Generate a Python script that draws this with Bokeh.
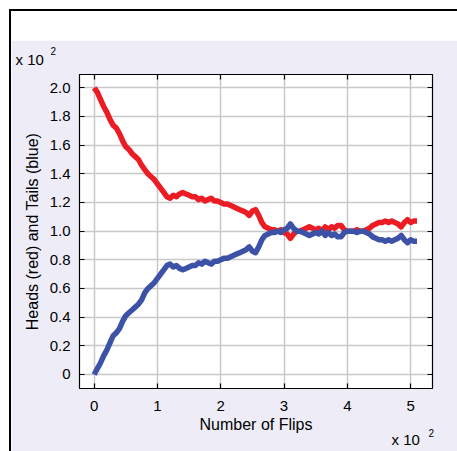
from bokeh.plotting import figure
from bokeh.models import FixedTicker, LinearAxis, Label, Range1d, ColumnDataSource
from bokeh.layouts import column
from bokeh.embed import file_html
from bokeh.resources import INLINE

flips = [0, 5, 10, 15, 20, 25, 30, 35, 40, 45, 50, 55, 60, 65, 70, 75, 80, 85, 90, 95,
         100, 105, 110, 115, 120, 125, 130, 135, 140, 145, 150, 155, 160, 165, 170, 175,
         180, 185, 190, 195, 200, 205, 210, 215, 220, 225, 230, 235, 240, 245, 250, 255,
         260, 265, 270, 275, 280, 285, 290, 295, 300, 305, 310, 315, 320, 325, 330, 335,
         340, 345, 350, 355, 360, 365, 370, 375, 380, 385, 390, 395, 400, 405, 410, 415,
         420, 425, 430, 435, 440, 445, 450, 455, 460, 465, 470, 475, 480, 485, 490, 495,
         500, 505, 510]

heads = [200, 197, 192, 187, 183, 178, 174, 172, 168, 163, 159, 157, 154, 152, 150, 146,
         143, 140, 138, 136, 133, 130, 127, 124, 123, 125, 124, 126, 127, 126, 125, 124,
         124, 122, 123, 121, 122, 123, 121, 121, 120, 119, 119, 118, 117, 116, 115, 114,
         113, 111, 114, 115, 111, 106, 103, 102, 101, 101, 100, 101, 99, 98, 95, 98,
         100, 100, 101, 102, 103, 102, 101, 102, 100, 103, 101, 103, 102, 104, 104, 101,
         100, 100, 100, 101, 100, 100, 101, 102, 104, 105, 106, 106, 107, 106, 107, 106,
         105, 103, 106, 108, 106, 107, 107]

tails = [0, 4, 8, 13, 17, 22, 27, 29, 32, 37, 41, 43, 45, 47, 49, 52, 57, 60, 62, 64,
         67, 70, 73, 76, 77, 75, 76, 74, 73, 74, 75, 76, 76, 78, 77, 79, 78, 77, 79, 79,
         80, 81, 81, 82, 83, 84, 85, 86, 87, 89, 86, 85, 89, 94, 97, 98, 99, 99, 100, 99,
         101, 102, 105, 102, 100, 100, 99, 98, 97, 98, 99, 98, 100, 97, 99, 97, 98, 96,
         96, 99, 100, 100, 100, 99, 100, 100, 99, 98, 96, 95, 94, 94, 93, 94, 93, 94,
         95, 97, 94, 92, 94, 93, 93]

x_ticks = [0, 100, 200, 300, 400, 500]
x_tick_labels = ["0", "1", "2", "3", "4", "5"]
y_ticks = [0, 20, 40, 60, 80, 100, 120, 140, 160, 180, 200]
y_tick_labels = ["0", "0.2", "0.4", "0.6", "0.8", "1.0", "1.2", "1.4", "1.6", "1.8", "2.0"]

FONT = "Liberation Sans"
RED = "#EC1C24"
BLUE = "#3C52A6"
BG = "#EEEDF7"

src = ColumnDataSource(dict(flips=flips, heads=heads, tails=tails))

p = figure(frame_width=353, frame_height=314,
           x_range=Range1d(-23.1, 534.5), y_range=Range1d(-9.8, 209.3),
           output_backend="svg", toolbar_location=None,
           min_border_left=68, min_border_right=25, min_border_top=34, min_border_bottom=63,
           background_fill_color="white", border_fill_color=BG,
           outline_line_color="black", outline_line_width=1.2)

p.line("flips", "heads", source=src, line_color=RED, line_width=5.5, line_join="round")
p.line("flips", "tails", source=src, line_color=BLUE, line_width=5.5, line_join="round")

for g, t in ((p.xgrid, x_ticks), (p.ygrid, y_ticks)):
    g.ticker = FixedTicker(ticks=t)
    g.grid_line_color = "#C8C8C8"
    g.grid_line_width = 1.5

def style_axis(ax, ticks, labels, show):
    ax.ticker = FixedTicker(ticks=ticks)
    ax.major_label_overrides = dict(zip(ticks, labels))
    ax.major_tick_in = 5
    ax.major_tick_out = 0
    ax.minor_tick_line_color = None
    ax.major_tick_line_color = "black"
    ax.major_tick_line_width = 1.2
    ax.axis_line_color = "black"
    ax.major_label_text_font = FONT
    ax.major_label_text_font_size = "15px"
    ax.major_label_text_color = "black" if show else None
    ax.axis_label_text_font = FONT
    ax.axis_label_text_font_size = "16px"
    ax.axis_label_text_font_style = "normal"
    ax.axis_label_text_color = "black"

style_axis(p.xaxis[0], x_ticks, x_tick_labels, True)
style_axis(p.yaxis[0], y_ticks, y_tick_labels, True)
p.xaxis[0].axis_label = "Number of Flips"
p.yaxis[0].axis_label = "Heads (red) and Tails (blue)"
p.xaxis[0].major_label_standoff = 12
p.xaxis[0].axis_label_standoff = 2
p.yaxis[0].major_label_standoff = 9
p.yaxis[0].axis_label_standoff = 6

top_ax = LinearAxis(major_label_text_font_size="0px")
style_axis(top_ax, x_ticks, x_tick_labels, False)
top_ax.major_label_text_font_size = "0px"
top_ax.major_label_standoff = 0
p.add_layout(top_ax, "above")
right_ax = LinearAxis()
style_axis(right_ax, y_ticks, y_tick_labels, False)
right_ax.major_label_text_font_size = "0px"
right_ax.major_label_standoff = 0
p.add_layout(right_ax, "right")

def add_label(x, y, text, size, side):
    p.add_layout(Label(x=x, y=y, x_units="screen", y_units="screen", text=text,
                       text_font=FONT, text_font_size=size, text_color="black",
                       text_baseline="alphabetic", text_align="left"), side)

add_label(-64, 15, "x 10", "15px", "above")
add_label(-29, 6.5, "2", "10px", "above")
add_label(-41, -50.8, "x 10", "15px", "right")
add_label(-32, -44.9, "2", "10px", "right")

layout = column(p, margin=(9, 0, 0, 9),
                styles={"border-top": "2px solid black", "border-left": "2px solid black",
                        "padding-top": "29px", "background-color": "white"})

open("out.html", "w").write(file_html(layout, INLINE))
